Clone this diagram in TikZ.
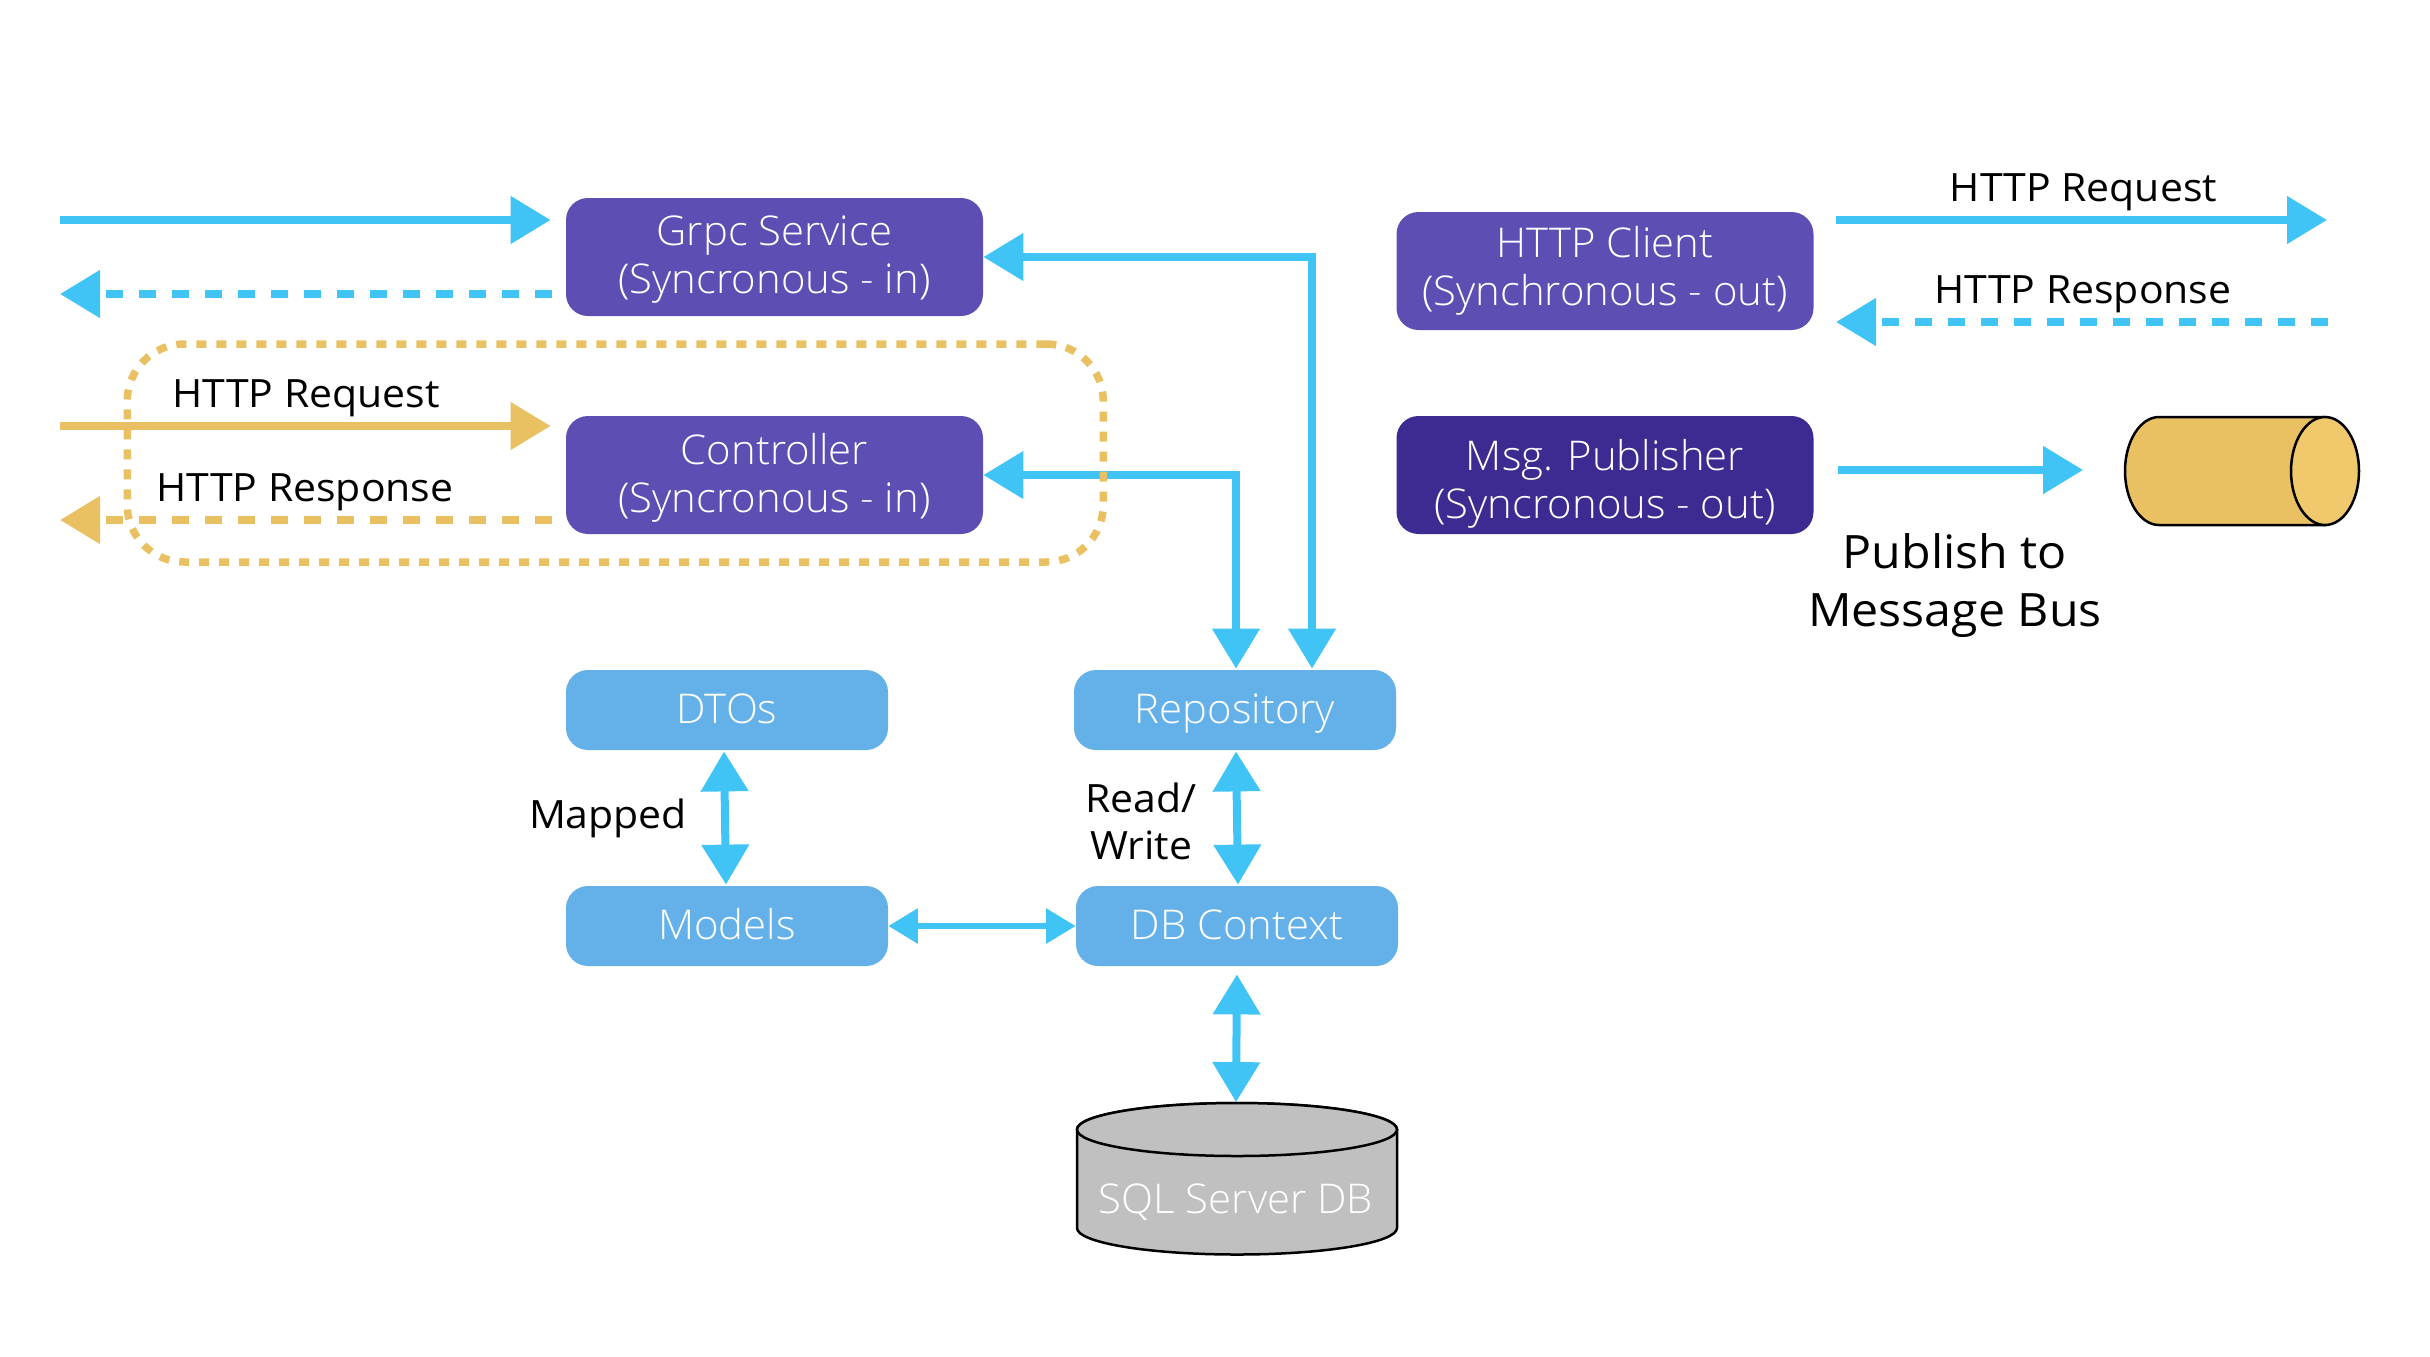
\documentclass[tikz,border=0pt]{standalone}
\usepackage{fontspec}
\setmainfont[FakeStretch=1.05]{Open Sans}
\newfontfamily\lightf[FakeStretch=1.02]{Open Sans Light}
\usetikzlibrary{arrows.meta,calc}
\definecolor{flowblue}{HTML}{40C4F6}
\definecolor{gold}{HTML}{E9C163}
\definecolor{goldend}{HTML}{F0C96C}
\definecolor{purple}{HTML}{5D4EB4}
\definecolor{darkpurple}{HTML}{3D2B91}
\definecolor{skyfill}{HTML}{64B1EA}
\definecolor{dbgrey}{HTML}{C0C0C0}
\tikzset{
  x=0.5pt,y=-0.5pt,
  box/.style={rounded corners=11pt,inner sep=0pt,text=white,align=center,
    font=\lightf\fontsize{20.5}{24}\selectfont},
  svc/.style={box,fill=purple,minimum width=208.5pt,minimum height=59pt},
  pub/.style={box,fill=darkpurple,minimum width=208.5pt,minimum height=59pt},
  lite/.style={box,fill=skyfill,minimum width=161pt,minimum height=40pt,text height=14pt,text depth=1pt},
  lab/.style={font=\fontsize{19.5}{24}\selectfont,inner sep=0pt,anchor=base,align=center},
  big/.style={font=\fontsize{23}{29}\selectfont,inner sep=0pt,align=center},
  htip/.tip={Triangle[length=20pt,width=23pt]},
  stip/.tip={Triangle[length=14.7pt,width=17pt]},
  flow/.style={line width=4pt,draw=flowblue,-{htip[flowblue]}},
  goldflow/.style={line width=4pt,draw=gold,-{htip[gold]}},
  dashy/.style={dash pattern=on 8.5pt off 8pt},
  both/.style={line width=4pt,draw=flowblue,{htip[flowblue]}-{htip[flowblue]}},
  thin both/.style={line width=2.85pt,draw=flowblue,{stip[flowblue]}-{stip[flowblue]}},
  zoneline/.style={rectangle,draw=gold,line width=3.75pt,rounded corners=28.5pt,
    dash pattern=on 5pt off 5pt,minimum width=488pt,minimum height=109pt,inner sep=0pt},
  drum/.style={fill=dbgrey,draw=black,line width=1.25pt},
  busdrum/.style={fill=gold,draw=black,line width=1.25pt},
}
\begin{document}
\begin{tikzpicture}
\useasboundingbox (0,0) rectangle (2430,1356);
% boxes
\node[svc,text height=40pt,text depth=4pt] (grpc) at (774.5,257) {Grpc Service\\(Syncronous - in)};
\node[svc,text height=41pt,text depth=4pt] (ctrl) at (774.5,475) {Controller\\(Syncronous - in)};
\node[svc,text height=38pt,text depth=4pt] (client) at (1605,271) {HTTP Client\\(Synchronous - out)};
\node[pub,text height=47pt,text depth=4pt] (msg) at (1605,475) {Msg. Publisher\\(Syncronous - out)};
\node[lite] (dtos) at (727,710) {DTOs};
\node[lite] (models) at (727,926) {Models};
\node[lite] (repo) at (1235,710) {Repository};
\node[lite] (dbctx) at (1237,926) {DB Context};
% SQL cylinder
\path[drum] (1077,1129.5) -- (1077,1228) arc[start angle=180,end angle=360,x radius=160,y radius=-26.5]
  -- (1397,1129.5) arc[start angle=0,end angle=180,x radius=160,y radius=-26.5] -- cycle;
\path[drum] (1237,1129.5) ellipse[x radius=160,y radius=26.5];
\node[minimum width=160pt,minimum height=75.5pt,inner sep=0pt] (sql) at (1237,1179) {};
\node[inner sep=0pt,anchor=base,text=white,font=\lightf\fontsize{20.5}{24}\selectfont] (sqltext) at (1236,1213) {SQL Server DB};
% message bus cylinder
\path[busdrum] (2159,417) -- (2325,417) -- (2325,525) -- (2159,525)
  arc[start angle=90,end angle=270,x radius=34,y radius=54] -- cycle;
\path[draw=black,fill=goldend,line width=1.25pt] (2325,471) ellipse[x radius=34,y radius=54];
\node[minimum width=117pt,minimum height=54pt,inner sep=0pt] (bus) at (2242,471) {};
% free ends
\coordinate (inA) at (60,220);
\coordinate (outA) at (60,294);
\coordinate (inB) at (60,426);
\coordinate (outB) at (60,520);
\coordinate (clientOutStart) at (1836,220);
\coordinate (clientOutEnd) at (2327,220);
\coordinate (clientInStart) at (2328,322);
\coordinate (clientInEnd) at (1836,322);
\coordinate (pubStart) at (1838,470);
% connectors
\draw[flow,shorten >=7.5pt] (inA) -- (inA -| grpc.west);
\draw[flow,dashy,shorten <=7pt] (outA -| grpc.west) -- (outA);
\draw[goldflow,shorten >=7.5pt] (inB) -- (inB -| ctrl.west);
\draw[goldflow,dashy,shorten <=7pt] (outB -| ctrl.west) -- (outB);
\draw[both] (grpc.east) -| ($(repo.north)+(77,-1)$);
\draw[both] (ctrl.east) -| ($(repo.north)+(1,-1)$);
\draw[flow] (clientOutStart) -- (clientOutEnd);
\draw[flow,dashy] (clientInStart) -- (clientInEnd);
\draw[flow,shorten >=20.75pt] (pubStart) -- (pubStart -| bus.west);
\draw[both] ($(dtos.south)+(-3,1)$) -- ($(models.north)+(-1,-1)$);
\draw[both] ($(repo.south)+(1,1)$) -- ($(dbctx.north)+(1,-1)$);
\draw[thin both] (models.east) -- (dbctx.west);
\draw[both,shorten <=4pt] (dbctx.south) -- ($(sql.north)+(-1,-1)$);
% zone
\node[zoneline] (zone) at (615.25,453) {};
% labels
\node[lab] (l1) at (306,407) {HTTP Request};
\node[lab] (l2) at (305,501) {HTTP Response};
\node[lab] (l3) at (2083.5,201) {HTTP Request};
\node[lab] (l4) at (2083,303) {HTTP Response};
\node[lab] (l5) at (608,828) {Mapped};
\node[lab] (l6) at (1141,812) {Read/};
\node[lab] (l7) at (1141,859) {Write};
\node[big,anchor=base] (l8) at (1955,568) {Publish to};
\node[big,anchor=base] (l9) at (1955,626) {Message Bus};
\end{tikzpicture}
\end{document}
